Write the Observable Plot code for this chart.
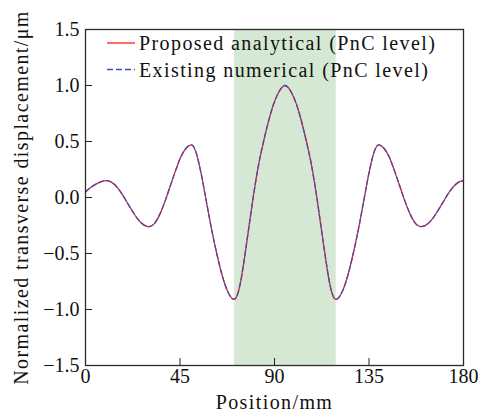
<!DOCTYPE html>
<html><head><meta charset="utf-8">
<script src="https://cdn.jsdelivr.net/npm/d3@7"></script>
<script src="https://cdn.jsdelivr.net/npm/@observablehq/plot@0.6"></script>
<style>
body{margin:0;background:#fff;}
#chart{width:478px;height:416px;}
#chart svg text{font-family:"Liberation Serif",serif;}
.spaced{letter-spacing:1.4px;}
</style></head><body><div id="chart"></div>
<script>
// Position (mm) and normalized transverse displacement (µm)
const positions = [0,2.5,5,7.5,10,12.5,15.1,17.6,20.15,22.7,25.2,27.7,30.3,32.8,35.3,37.8,40.4,42.9,45.4,47.9,50.5,52.5,55,57.5,60,62.5,65,67.5,70.8,72.5,74,75.7,78,80,82.5,84.8,87,89.5,92,95,
  98,100.5,103,105.2,107.5,110,112,114.3,116,117.5,119.2,122.5,125,127.5,130,132.5,135,137.5,139.5,142.1,144.6,147.1,149.6,152.2,154.7,157.2,159.7,162.3,164.8,167.3,169.85,172.4,174.9,177.5,180];
const analytical = [0.05,0.09,0.12,0.142,0.15,0.135,0.09,0.025,-0.055,-0.133,-0.2,-0.244,-0.26,-0.233,-0.153,-0.037,0.105,0.24,0.363,0.44,0.47,0.41,0.22,-0.03,-0.28,-0.5,-0.69,-0.83,-0.91,-0.86,-0.74,-0.54,-0.24,0.02,0.3,0.5,0.67,0.83,0.94,1.0,
  0.94,0.83,0.67,0.5,0.3,0.02,-0.24,-0.54,-0.74,-0.86,-0.91,-0.83,-0.69,-0.5,-0.28,-0.03,0.22,0.41,0.47,0.44,0.363,0.24,0.105,-0.037,-0.153,-0.233,-0.26,-0.244,-0.2,-0.133,-0.055,0.025,0.09,0.135,0.15];
const numerical = [0.05,0.09,0.12,0.142,0.15,0.135,0.09,0.025,-0.055,-0.133,-0.2,-0.244,-0.26,-0.233,-0.153,-0.037,0.105,0.24,0.363,0.44,0.47,0.41,0.22,-0.03,-0.28,-0.5,-0.69,-0.83,-0.91,-0.86,-0.74,-0.54,-0.24,0.02,0.3,0.5,0.67,0.83,0.94,1.0,
  0.94,0.83,0.67,0.5,0.3,0.02,-0.24,-0.54,-0.74,-0.86,-0.91,-0.83,-0.69,-0.5,-0.28,-0.03,0.22,0.41,0.47,0.44,0.363,0.24,0.105,-0.037,-0.153,-0.233,-0.26,-0.244,-0.2,-0.133,-0.055,0.025,0.09,0.135,0.15];
const bandStart = 71, bandEnd = 119.4;
const xTicks = [0,45,90,135,180];
const yTicks = [-1.5,-1.0,-0.5,0.0,0.5,1.0,1.5];
const seriesNames = ["Proposed analytical (PnC level)","Existing numerical (PnC level)"];
const xTitle = "Position/mm";
const yTitle = "Normalized transverse displacement/μm";

const A = positions.map((x,i)=>({x, y: analytical[i]}));
const N = positions.map((x,i)=>({x, y: numerical[i]}));
const RED = "#ff1f1f", BLUE = "#3b4fb3";

const plot = Plot.plot({
  width: 478, height: 416,
  marginLeft: 85, marginRight: 15, marginTop: 29, marginBottom: 51,
  style: {fontFamily: "Liberation Serif", fontSize: "20px", background: "#fff", color: "#111", overflow: "visible"},
  x: {domain: [0,180]},
  y: {domain: [-1.5,1.5]},
  marks: [
    Plot.rect([{a: bandStart, b: bandEnd}], {x1: "a", x2: "b", y1: () => -1.5, y2: () => 1.5, fill: "#d5e8d3"}),
    Plot.line(A, {x: "x", y: "y", stroke: RED, strokeWidth: 1.3, curve: "monotone-x"}),
    Plot.line(N, {x: "x", y: "y", stroke: BLUE, strokeWidth: 1.3, strokeDasharray: "5,3", curve: "monotone-x"}),
    Plot.tickX(xTicks, {x: d => d, insetTop: 336 - 7, stroke: "#222", strokeWidth: 1}),
    Plot.tickY(yTicks, {y: d => d, insetRight: 378 - 7, stroke: "#222", strokeWidth: 1}),
    Plot.axisX(xTicks, {tickSize: 0, tickPadding: 3, label: null, tickFormat: d3.format("d"), fontSize: 20}),
    Plot.axisY(yTicks, {tickSize: 0, tickPadding: 6, label: null, tickFormat: d3.format(".1f"), fontSize: 20}),
    Plot.text([xTitle], {text: d => d, frameAnchor: "bottom", textAnchor: "middle", dy: 37, fontSize: 20, lineAnchor: "middle", className: "spaced"}),
    Plot.text([yTitle], {text: d => d, frameAnchor: "left", textAnchor: "middle", rotate: -90, dx: -64, fontSize: 20, lineAnchor: "middle", className: "spaced"}),
    Plot.frame({stroke: "#2a2a2a", strokeWidth: 1.3})
  ]
});

const svg = d3.select(plot);
const lg = svg.append("g");
const rows = [{name: seriesNames[0], color: RED, dash: null, y: 43}, {name: seriesNames[1], color: BLUE, dash: "6,3", y: 69.5}];
rows.forEach(r => {
  const ln = lg.append("line").attr("x1", 107).attr("x2", 135).attr("y1", r.y).attr("y2", r.y)
    .attr("stroke", r.color).attr("stroke-width", 1.3);
  if (r.dash) ln.attr("stroke-dasharray", r.dash);
  lg.append("text").attr("x", 139).attr("y", r.y + 7).attr("font-size", 20)
    .attr("text-anchor", "start").attr("class", "spaced").attr("fill", "#111").text(r.name);
});
document.getElementById("chart").appendChild(plot);
</script></body></html>
